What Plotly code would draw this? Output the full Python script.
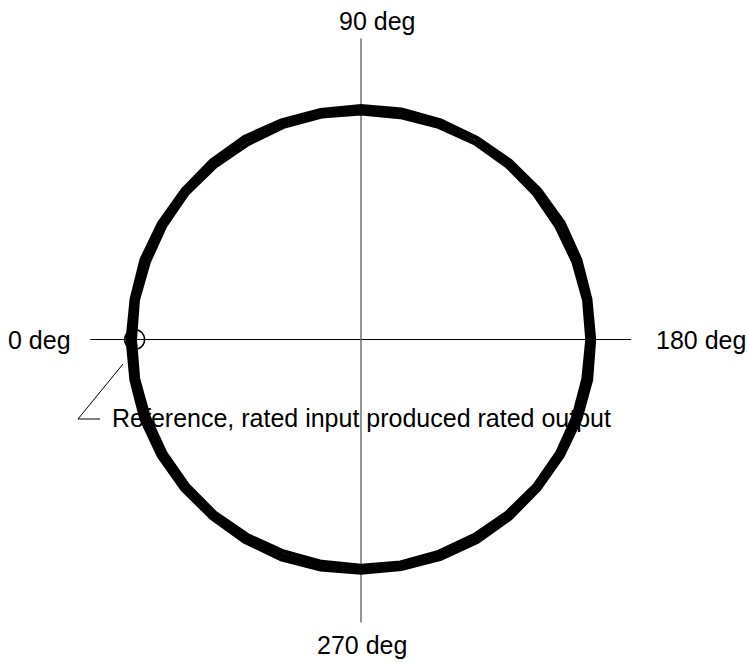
import numpy as np
import plotly.graph_objects as go

# ---- data -------------------------------------------------------------
phase_deg = [0, 10, 20, 30, 40, 50, 60, 70, 80, 90, 100, 110, 120, 130, 140, 150, 160, 170,
             180, 190, 200, 210, 220, 230, 240, 250, 260, 270, 280, 290, 300, 310, 320, 330, 340, 350, 360]

gain_a = [0.978, 0.980, 0.977, 0.979, 0.981, 0.978, 0.976, 0.979, 0.980, 0.978, 0.977, 0.979,
          0.981, 0.980, 0.978, 0.976, 0.978, 0.980, 0.979, 0.977, 0.978, 0.980, 0.981, 0.979,
          0.977, 0.978, 0.980, 0.979, 0.977, 0.976, 0.978, 0.980, 0.979, 0.978, 0.977, 0.979, 0.978]
gain_b = [0.990, 0.988, 0.991, 0.989, 0.987, 0.990, 0.992, 0.989, 0.988, 0.990, 0.991, 0.989,
          0.987, 0.988, 0.990, 0.992, 0.990, 0.988, 0.989, 0.991, 0.990, 0.988, 0.987, 0.989,
          0.991, 0.990, 0.988, 0.989, 0.991, 0.992, 0.990, 0.988, 0.989, 0.990, 0.991, 0.989, 0.990]
gain_c = [1.000, 1.002, 0.999, 1.001, 1.003, 1.000, 0.998, 1.001, 1.002, 1.000, 0.999, 1.002,
          1.003, 1.001, 0.999, 0.998, 1.000, 1.002, 1.001, 0.999, 1.000, 1.002, 1.003, 1.001,
          0.999, 1.000, 1.002, 1.001, 0.999, 0.998, 1.000, 1.002, 1.001, 1.000, 0.999, 1.001, 1.000]
gain_d = [1.011, 1.009, 1.012, 1.010, 1.008, 1.011, 1.013, 1.010, 1.009, 1.011, 1.012, 1.010,
          1.008, 1.009, 1.011, 1.013, 1.011, 1.009, 1.010, 1.012, 1.011, 1.009, 1.008, 1.010,
          1.012, 1.011, 1.009, 1.010, 1.012, 1.013, 1.011, 1.009, 1.010, 1.011, 1.012, 1.010, 1.011]

ref_gain = [0.98]
ref_phase = [0]

axis_labels = ["0 deg", "90 deg", "180 deg", "270 deg"]
ref_label = "Reference, rated input produced rated output"


def to_xy(mag, ph):
    m = np.asarray(mag, dtype=float)
    t = np.deg2rad(np.asarray(ph, dtype=float))
    # 0 deg at left, 90 deg at top, 180 deg at right, 270 deg at bottom
    return -m * np.cos(t), m * np.sin(t)


# ---- figure -------------------------------------------------------------
W, H = 748, 662
S = 231.0                    # pixels per unit
CX, CY = 361.0, 339.5

fig = go.Figure()

# crosshair
fig.add_trace(go.Scatter(x=[-1.172, 1.170], y=[0, 0], mode="lines",
                         line=dict(color="black", width=1), hoverinfo="skip"))
fig.add_trace(go.Scatter(x=[0, 0], y=[-1.225, 1.303], mode="lines",
                         line=dict(color="#707070", width=1.5), hoverinfo="skip"))

# reference marker (drawn beneath the curves)
rx, ry = to_xy(ref_gain, ref_phase)
fig.add_trace(go.Scatter(x=rx, y=ry, mode="markers",
                         marker=dict(symbol="circle-open", size=20,
                                     color="black", line=dict(width=1.5))))

for g in (gain_a, gain_b, gain_c, gain_d):
    x, y = to_xy(g, phase_deg)
    fig.add_trace(go.Scatter(x=x, y=y, mode="lines",
                             line=dict(color="black", width=3.8)))

font = dict(family="Liberation Sans, Arial, sans-serif", size=25, color="black")


def px(xp):
    return (xp - CX) / S


def py(yp):
    return (CY - yp) / S


annotations = [
    dict(x=px(73), y=py(340), text=axis_labels[0], xanchor="right", yanchor="middle"),
    dict(x=px(377), y=py(21), text=axis_labels[1], xanchor="center", yanchor="middle"),
    dict(x=px(654), y=py(340), text=axis_labels[2], xanchor="left", yanchor="middle"),
    dict(x=px(362), y=py(645), text=axis_labels[3], xanchor="center", yanchor="middle"),
    dict(x=px(110), y=py(418), text=ref_label, xanchor="left", yanchor="middle"),
]
for a in annotations:
    a.update(xref="x", yref="y", showarrow=False, font=font)

# leader line for the reference label
fig.add_shape(type="path",
              path=f"M {px(123)} {py(364)} L {px(78)} {py(419)} L {px(100)} {py(419)}",
              xref="x", yref="y", line=dict(color="black", width=1))

fig.update_layout(
    width=W, height=H,
    margin=dict(l=0, r=0, t=0, b=0),
    paper_bgcolor="white", plot_bgcolor="white",
    showlegend=False,
    hovermode=False,
    annotations=annotations,
    xaxis=dict(range=[-CX / S, (W - CX) / S], visible=False, fixedrange=True),
    yaxis=dict(range=[-(H - CY) / S, CY / S], visible=False, fixedrange=True),
)

fig.write_html("out.html",
               config={"displayModeBar": False, "staticPlot": True},
               post_script="document.body.style.margin='0';document.body.style.overflow='hidden';")
